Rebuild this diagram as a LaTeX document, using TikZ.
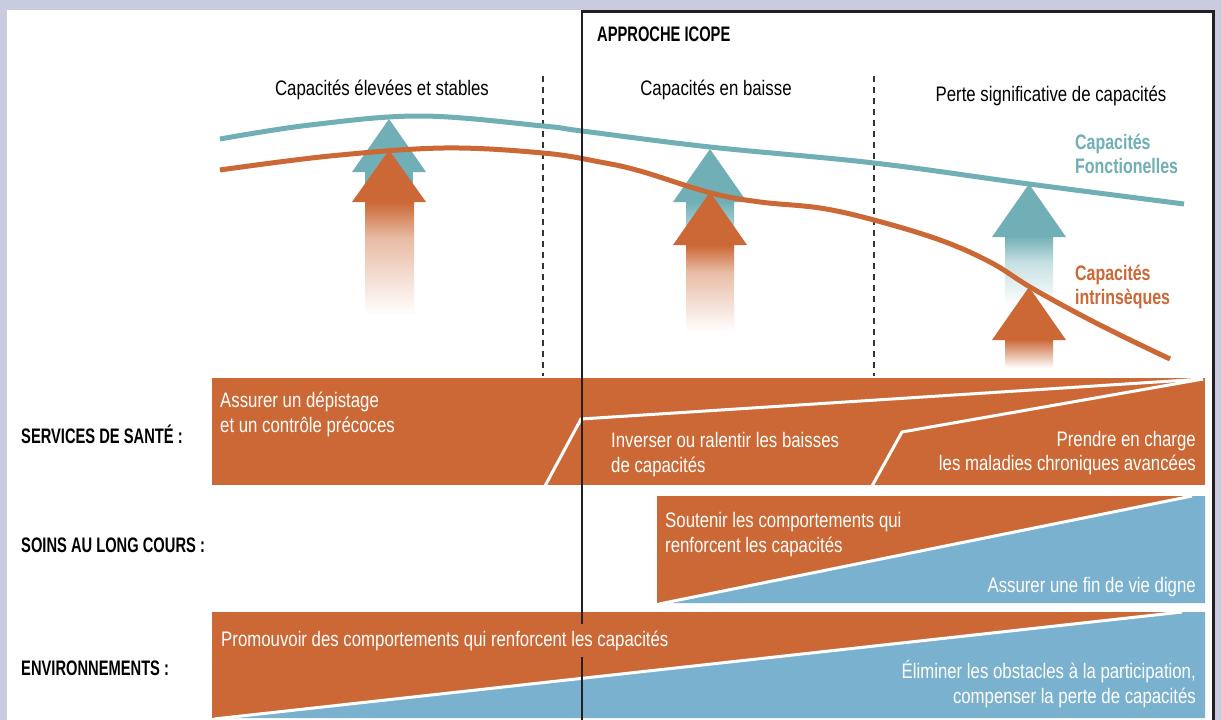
\documentclass[tikz,border=0pt]{standalone}
\usepackage{fontspec}
\setmainfont{Liberation Sans}[FakeStretch=0.8, BoldFeatures={FakeStretch=0.7}]
\newfontfamily\curvefont{Liberation Sans}[FakeStretch=0.8, BoldFeatures={FakeStretch=0.76}]
\definecolor{bgc}{RGB}{200,204,222}
\definecolor{ora}{RGB}{203,104,53}
\definecolor{tea}{RGB}{111,175,181}
\definecolor{blu}{RGB}{122,177,206}
\definecolor{frm}{RGB}{35,31,32}
\begin{document}
\begin{tikzpicture}[x=1pt,y=-1pt,
  lab/.style={font=\fontsize{21}{25}\selectfont, inner sep=0pt},
  hd/.style={lab, text=black},
  bl/.style={lab, font=\fontsize{21}{25}\selectfont\bfseries, text=black},
  wt/.style={lab, text=white},
  tealab/.style={lab, font=\curvefont\fontsize{21}{25}\selectfont\bfseries, text=tea},
  oralab/.style={lab, font=\curvefont\fontsize{21}{25}\selectfont\bfseries, text=ora},
  curve/.style={line width=5pt, line cap=butt},
  divider/.style={line width=1.2pt, dash pattern=on 6pt off 5pt, black!80},
  sep/.style={white, line width=3pt}]
\fill[bgc] (0,0) rectangle (1221,720);
\fill[white] (7,10) rectangle (1213,720);
\useasboundingbox (0,0) rectangle (1221,720);

% dividers
\draw[divider] (543,76) -- (543,376);
\draw[divider] (874,76) -- (874,376);

% headings
\node[bl, anchor=base west] (icope) at (597,41) {APPROCHE ICOPE};
\node[hd, anchor=base] (h1) at (382,95) {Capacités élevées et stables};
\node[hd, anchor=base] (h2) at (716,95) {Capacités en baisse};
\node[hd, anchor=base] (h3) at (1051,101) {Perte significative de capacités};
\node[tealab, anchor=base west] (f1) at (1075,149) {Capacités};
\node[tealab, anchor=base west] (f2) at (1075,173) {Fonctionelles};
\node[oralab, anchor=base west] (i1) at (1075,280) {Capacités};
\node[oralab, anchor=base west] (i2) at (1075,304) {intrinsèques};

% arrow 1
\fill[tea] (365,172) rectangle (413,205);
\fill[tea] (352,172) -- (389,119) -- (426,172) -- cycle;
\shade[top color=ora, bottom color=ora!45] (365,202) rectangle (414,238);
\shade[top color=ora!45, bottom color=white] (365,237.5) rectangle (414,315);
\fill[ora] (352,202) -- (389,150) -- (426,202) -- cycle;
% arrow 2
\shade[top color=tea, bottom color=white] (686,201) rectangle (734,265);
\fill[tea] (673,202) -- (710,149) -- (747,202) -- cycle;
\shade[top color=ora, bottom color=ora!45] (686,245) rectangle (734,272);
\shade[top color=ora!45, bottom color=white] (686,271.5) rectangle (734,332);
\fill[ora] (673,245) -- (710,192) -- (747,245) -- cycle;
% arrow 3
\shade[top color=tea, bottom color=tea!40] (1005,236) rectangle (1053,262);
\shade[top color=tea!40, bottom color=white] (1005,261.5) rectangle (1053,305);
\fill[tea] (992,237) -- (1029,184) -- (1066,237) -- cycle;
\shade[top color=ora, bottom color=white] (1005,339) rectangle (1053,368);
\fill[ora] (992,340) -- (1029,287) -- (1066,340) -- cycle;

% curves
\draw[curve, tea] plot[smooth, tension=0.6] coordinates {(220,139) (310,125) (421,116) (543,126) (582,131) (710,147) (874,163) (1029,184) (1184,204)};
\draw[curve, ora] plot[smooth, tension=0.6] coordinates {(220,170) (330,156) (444,148) (543,153) (600,162) (640,171) (711,193) (760,202) (820,208) (874,220) (940,240) (990,262) (1030,287) (1075,312) (1120,335) (1170,359)};

% services de sante
\fill[ora] (212,378) rectangle (1205,485);
\draw[sep] (545,486) -- (581,419) -- (1203,379);
\draw[sep] (872,486) -- (902,432) -- (1203,379);
% soins au long cours
\fill[ora] (657,496) rectangle (1205,603);
\fill[blu] (665,603) -- (1192,496) -- (1205,496) -- (1205,603) -- cycle;
\draw[sep] (659,604) -- (1192,496);
% environnements
\fill[ora] (212,612) rectangle (1205,718);
\fill[blu] (222,718) -- (1180,612) -- (1205,612) -- (1205,718) -- cycle;
\draw[sep] (214,719) -- (1182,612);

% frame
\draw[frm, line width=2.5pt] (582,720) -- (582,11.5) -- (1213.5,11.5) -- (1213.5,720);

% bar texts
\node[wt, anchor=base west] (s1a) at (220,407) {Assurer un dépistage};
\node[wt, anchor=base west] (s1b) at (220,432) {et un contrôle précoces};
\node[wt, anchor=base west] (s2a) at (611,447) {Inverser ou ralentir les baisses};
\node[wt, anchor=base west] (s2b) at (611,472) {de capacités};
\node[wt, anchor=base east] (s3a) at (1196,446) {Prendre en charge};
\node[wt, anchor=base east] (s3b) at (1196,470) {les maladies chroniques avancées};
\node[wt, anchor=base west] (l1a) at (665,527) {Soutenir les comportements qui};
\node[wt, anchor=base west] (l1b) at (665,552) {renforcent les capacités};
\node[wt, anchor=base east] (l2) at (1196,592) {Assurer une fin de vie digne};
\node[wt, anchor=base west, fill=ora, inner ysep=7pt] (e1) at (221,646) {Promouvoir des comportements qui renforcent les capacités};
\node[wt, anchor=base east] (e2a) at (1196,678) {Éliminer les obstacles à la participation,};
\node[wt, anchor=base east] (e2b) at (1196,703) {compenser la perte de capacités};

% row labels
\node[bl, anchor=base west] (r1) at (21,443) {SERVICES DE SANTÉ :};
\node[bl, anchor=base west] (r2) at (21,552) {SOINS AU LONG COURS :};
\node[bl, anchor=base west] (r3) at (21,675) {ENVIRONNEMENTS :};
\end{tikzpicture}
\end{document}
